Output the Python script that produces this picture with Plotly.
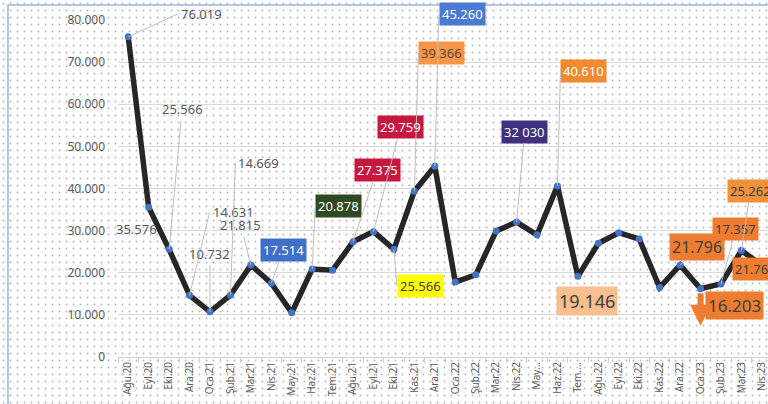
import plotly.graph_objects as go

W, H = 768, 404

months = ["Ağu.20", "Eyl.20", "Eki.20", "Ara.20", "Oca.21", "Şub.21", "Mar.21", "Nis.21",
          "May.21", "Haz.21", "Tem.21", "Ağu.21", "Eyl.21", "Eki.21", "Kas.21", "Ara.21",
          "Oca.22", "Şub.22", "Mar.22", "Nis.22", "May.22", "Haz.22", "Tem.22", "Ağu.22",
          "Eyl.22", "Eki.22", "Kas.22", "Ara.22", "Oca.23", "Şub.23", "Mar.23", "Nis.23"]
tick_labels = ["Ağu.20", "Eyl.20", "Eki.20", "Ara.20", "Oca.21", "Şub.21", "Mar.21", "Nis.21",
               "May.21", "Haz.21", "Tem.21", "Ağu.21", "Eyl.21", "Eki.21", "Kas.21", "Ara.21",
               "Oca.22", "Şub.22", "Mar.22", "Nis.22", "May...", "Haz.22", "Tem....", "Ağu.22",
               "Eyl.22", "Eki.22", "Kas.22", "Ara.22", "Oca.23", "Şub.23", "Mar.23", "Nis.23"]
values = [76019, 35576, 25566, 14631, 10732, 14669, 21815, 17514,
          10500, 20878, 20600, 27375, 29759, 25566, 39366, 45260,
          17800, 19500, 29900, 32030, 29000, 40610, 19146, 27000,
          29500, 28000, 16500, 21796, 16203, 17357, 25262, 21769]
y_ticks = [0, 10000, 20000, 30000, 40000, 50000, 60000, 70000, 80000]

FONT = "Noto Sans"
GREY = "#595959"
ORANGE = "#EE7D31"

# label styling (index of labelled month, offsets in pixels, colours)
label_styles = [
    dict(i=0, ax=50, ay=-23, xa="left"),
    dict(i=1, arrow=False, xs=-12, ys=-22),
    dict(i=2, ax=13, ay=-140),
    dict(i=3, ax=20, ay=-83, xa="left"),
    dict(i=4, ax=0, ay=-58),
    dict(i=5, ax=5, ay=-132, xa="left"),
    dict(i=6, ax=-10, ay=-40),
    dict(i=7, ax=12, ay=-33, bg="#3F6FC6", fc="white"),
    dict(i=9, ax=3, ay=-63, xa="left", bg="#2F4A22", fc="white"),
    dict(i=11, ax=24, ay=-72, bg="#C8173E", fc="white"),
    dict(i=12, ax=27, ay=-105, bg="#C8173E", fc="white"),
    dict(i=13, ax=3, ay=37, xa="left", bg="#FFFF00", fc="#404040"),
    dict(i=14, ax=4, ay=-138, xa="left", bg="#F79646", fc="#5A4636"),
    dict(i=15, ax=4, ay=-152, xa="left", bg="#4A7BD0", fc="white"),
    dict(i=19, ax=8, ay=-90, bg="#41307F", fc="white", sep=" "),
    dict(i=21, ax=3, ay=-115, xa="left", bg="#F08A30", fc="white"),
    dict(i=22, ax=9, ay=25, bg="#FABF8F", fc="#404040", size=18),
    dict(i=27, ax=17, ay=-18, bg=ORANGE, fc="#3D3D3D", size=16),
    dict(i=28, arrow=False, xs=34, ys=-17, bg=ORANGE, fc="#3D3D3D", size=17),
    dict(i=29, ax=15, ay=-55, bg=ORANGE, fc="#3D3D3D"),
    dict(i=30, ax=9, ay=-60, bg="#F0923C", fc="#3D3D3D"),
    dict(i=31, arrow=False, xa="left", xs=-30, ys=-4, bg=ORANGE, fc="#3D3D3D"),
]


def fmt(v, sep="."):
    return f"{v:,}".replace(",", sep)


fig = go.Figure()

# dotted background covering the whole picture
fig.add_trace(go.Bar(
    x=[0.5], y=[1], width=[1], xaxis="x", yaxis="y",
    marker=dict(color="white", line=dict(width=0),
                pattern=dict(shape=".", fgcolor="#B8B8B8", bgcolor="white",
                             size=7, solidity=0.06, fillmode="replace")),
    hoverinfo="skip", showlegend=False,
))

fig.add_trace(go.Scatter(
    x=months, y=values, xaxis="x2", yaxis="y2",
    mode="lines+markers",
    line=dict(color="#262626", width=5.5),
    marker=dict(color="#4472C4", size=7),
    cliponaxis=False, showlegend=False,
))

annotations = []
for s in label_styles:
    i = s["i"]
    bg = s.get("bg")
    a = dict(
        x=months[i], y=values[i], xref="x2", yref="y2",
        text=fmt(values[i], s.get("sep", ".")),
        font=dict(family=FONT, size=s.get("size", 13), color=s.get("fc", GREY)),
        bgcolor=bg if bg else "rgba(0,0,0,0)",
        borderpad=2,
        xanchor=s.get("xa", "center"),
    )
    if s.get("arrow", True):
        a.update(showarrow=True, ax=s["ax"], ay=s["ay"], arrowhead=0,
                 arrowwidth=1, arrowcolor="#BFBFBF", standoff=0, startstandoff=0)
    else:
        a.update(showarrow=False, xshift=s.get("xs", 0), yshift=s.get("ys", 0))
    annotations.append(a)

# orange down arrow below Oca.23
annotations.append(dict(
    x=months[28], y=values[28], xref="x2", yref="y2", text="",
    showarrow=True, ax=0, ay=-34, yshift=-37,
    arrowhead=2, arrowsize=0.7, arrowwidth=6, arrowcolor=ORANGE,
))

fig.update_layout(
    width=W, height=H,
    margin=dict(l=0, r=0, t=0, b=0),
    paper_bgcolor="white", plot_bgcolor="rgba(0,0,0,0)",
    separators=",.",
    showlegend=False,
    bargap=0,
    hovermode=False,
    xaxis=dict(domain=[0, 1], range=[0, 1], visible=False, fixedrange=True),
    yaxis=dict(domain=[0, 1], range=[0, 1], visible=False, fixedrange=True),
    xaxis2=dict(
        domain=[118 / W, 1], anchor="y2", type="category",
        range=[-0.5, 31.3],
        tickvals=months, ticktext=tick_labels, tickangle=-90,
        tickfont=dict(family=FONT, size=10, color=GREY),
        showgrid=False, showline=True, linecolor="#D0D0D0", linewidth=1,
        ticks="outside", tickson="boundaries", ticklen=5, tickcolor="#D0D0D0",
        automargin=False,
    ),
    yaxis2=dict(
        domain=[47 / H, 384 / H], anchor="x2",
        range=[0, 80000], tickvals=y_ticks, tickformat=",.0f",
        tickfont=dict(family=FONT, size=12, color=GREY),
        showgrid=True, gridcolor="#D9D9D9", gridwidth=1,
        zeroline=False, showline=False, ticks="", ticklabelstandoff=12,
        automargin=False,
    ),
    annotations=annotations,
    shapes=[dict(type="rect", xref="paper", yref="paper",
                 x0=8 / W, x1=1.05, y0=-0.05, y1=(H - 5) / H,
                 line=dict(color="#9CB6DA", width=1.5), fillcolor="rgba(0,0,0,0)",
                 layer="above")],
)

fig.write_html("out.html", config={"displayModeBar": False},
               post_script="document.body.style.margin='0';")
